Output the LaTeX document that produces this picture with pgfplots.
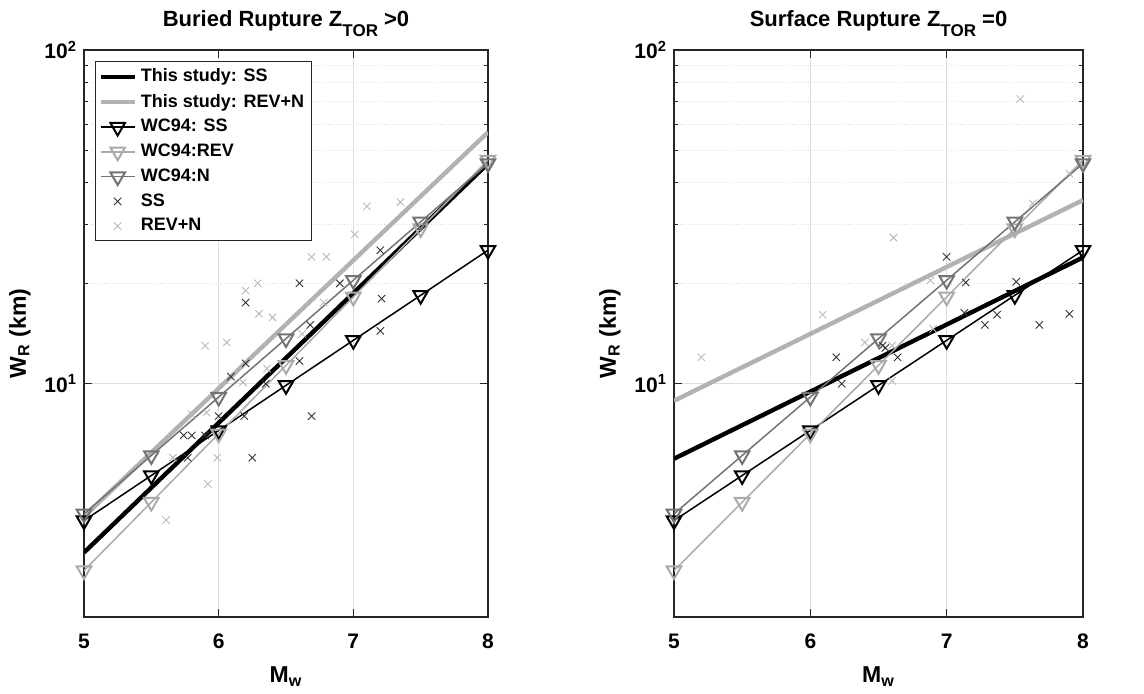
\documentclass[border=0pt]{standalone}
\usepackage{fontspec}
\setmainfont{Liberation Sans}
\usepackage{pgfplots}
\pgfplotsset{compat=1.18}
\definecolor{axgray}{RGB}{38,38,38}
\definecolor{gridc}{RGB}{222,222,222}
\definecolor{colrev}{RGB}{170,170,170}
\definecolor{coln}{RGB}{115,115,115}
\definecolor{colstudyrev}{RGB}{178,178,178}
\definecolor{colssx}{RGB}{50,50,50}
\definecolor{colrevx}{RGB}{185,185,185}
\begin{document}
\begin{tikzpicture}
\useasboundingbox (0pt,0pt) rectangle (572pt,347pt);
% ---------------- left panel
\begin{axis}[scale only axis, width=202pt, height=283.5pt, at={(42pt,38.5pt)}, anchor=south west,
  xmin=5, xmax=8, ymin=2, ymax=100, ymode=log,
  xtick={5,6,7,8}, xticklabels={5,6,7,8}, ytick={10,100},
  yticklabels={10\textsuperscript{1},10\textsuperscript{2}},
  xmajorgrids, ymajorgrids, yminorgrids,
  major grid style={gridc, line width=0.5pt},
  minor grid style={gridc, densely dotted, line width=0.5pt},
  axis line style={axgray, line width=0.6pt},
  tick style={axgray, line width=0.5pt},
  tick align=inside,
  major tick length=4pt, minor tick length=2pt,
  ticklabel style={font=\bfseries\fontsize{10.5}{12}\selectfont},
  xticklabel style={yshift=-5pt},
  xlabel={M\textsubscript{w}},
  ylabel={W\textsubscript{R} (km)},
  xlabel style={yshift=-2pt},
  label style={font=\bfseries\fontsize{11.5}{13}\selectfont},
  title style={font=\bfseries\fontsize{11}{12}\selectfont, yshift=-3pt},
  title={Buried Rupture Z\raisebox{-0.85ex}{\fontsize{8.5}{9}\selectfont TOR} >0},
  legend style={at={(0.027,0.98)}, anchor=north west, draw=axgray, line width=0.5pt,
    font=\bfseries\fontsize{9}{10.5}\selectfont, fill=white, row sep=0.6pt, inner sep=1.5pt},
  legend cell align=left]
\addplot[black, line width=2.2pt, no marks] coordinates {(5,3.12) (8,45.7)};
\addlegendentry{This study: SS}
\addplot[colstudyrev, line width=2.2pt, no marks] coordinates {(5,4.0) (8,56.7)};
\addlegendentry{This study: REV+N}
\addplot[black, line width=0.75pt, mark=triangle, mark size=4.2pt, mark options={rotate=180, line width=1pt, fill=none, solid}] coordinates {(5,3.890) (5.5,5.309) (6,7.244) (6.5,9.886) (7,13.49) (7.5,18.41) (8,25.12)};
\addlegendentry{WC94: SS}
\addplot[colrev, line width=0.75pt, mark=triangle, mark size=4.2pt, mark options={rotate=180, line width=1pt, fill=none, solid}] coordinates {(5,2.754) (5.5,4.416) (6,7.079) (6.5,11.35) (7,18.20) (7.5,29.17) (8,46.77)};
\addlegendentry{WC94:REV}
\addplot[coln, line width=0.75pt, mark=triangle, mark size=4.2pt, mark options={rotate=180, line width=1pt, fill=none, solid}] coordinates {(5,4.074) (5.5,6.095) (6,9.120) (6.5,13.65) (7,20.42) (7.5,30.55) (8,45.71)};
\addlegendentry{WC94:N}
\addplot[only marks, colssx, mark=x, mark size=2.6pt, mark options={line width=0.45pt}] coordinates {(5.74,7.0) (5.80,7.0) (5.90,7.0) (5.77,6.0) (6.0,8.0) (6.19,8.0) (6.25,6.0) (6.09,10.5) (6.20,11.5) (6.20,17.5) (6.60,11.7) (6.68,15.0) (6.69,8.0) (6.60,20.0) (6.90,20.0) (7.20,25.1) (7.21,18.0) (7.20,14.4) (6.35,10.0)};
\addlegendentry{SS}
\addplot[only marks, colrevx, mark=x, mark size=2.6pt, mark options={line width=0.45pt}] coordinates {(5.61,3.9) (5.66,6.0) (5.80,8.1) (5.91,8.2) (5.92,5.0) (5.99,6.0) (5.90,13.0) (6.06,13.3) (6.18,10.1) (6.20,19.0) (6.29,20.0) (6.30,16.2) (6.40,15.8) (6.36,11.1) (6.62,14.1) (6.69,24.0) (6.80,24.0) (7.01,28.0) (7.10,34.0) (7.35,35.0) (6.78,17.5)};
\addlegendentry{REV+N}
\end{axis}
% ---------------- right panel
\begin{axis}[scale only axis, width=204.5pt, height=283.5pt, at={(337pt,38.5pt)}, anchor=south west,
  xmin=5, xmax=8, ymin=2, ymax=100, ymode=log,
  xtick={5,6,7,8}, xticklabels={5,6,7,8}, ytick={10,100},
  yticklabels={10\textsuperscript{1},10\textsuperscript{2}},
  xmajorgrids, ymajorgrids, yminorgrids,
  major grid style={gridc, line width=0.5pt},
  minor grid style={gridc, densely dotted, line width=0.5pt},
  axis line style={axgray, line width=0.6pt},
  tick style={axgray, line width=0.5pt},
  tick align=inside,
  major tick length=4pt, minor tick length=2pt,
  ticklabel style={font=\bfseries\fontsize{10.5}{12}\selectfont},
  xticklabel style={yshift=-5pt},
  xlabel={M\textsubscript{w}},
  ylabel={W\textsubscript{R} (km)},
  xlabel style={yshift=-2pt},
  label style={font=\bfseries\fontsize{11.5}{13}\selectfont},
  title style={font=\bfseries\fontsize{11}{12}\selectfont, yshift=-3pt},
  title={Surface Rupture Z\raisebox{-0.85ex}{\fontsize{8.5}{9}\selectfont TOR} =0}]
\addplot[black, line width=2.2pt, no marks] coordinates {(5,5.96) (8,23.9)};
\addplot[colstudyrev, line width=2.2pt, no marks] coordinates {(5,8.89) (8,35.5)};
\addplot[black, line width=0.75pt, mark=triangle, mark size=4.2pt, mark options={rotate=180, line width=1pt, fill=none, solid}] coordinates {(5,3.890) (5.5,5.309) (6,7.244) (6.5,9.886) (7,13.49) (7.5,18.41) (8,25.12)};
\addplot[colrev, line width=0.75pt, mark=triangle, mark size=4.2pt, mark options={rotate=180, line width=1pt, fill=none, solid}] coordinates {(5,2.754) (5.5,4.416) (6,7.079) (6.5,11.35) (7,18.20) (7.5,29.17) (8,46.77)};
\addplot[coln, line width=0.75pt, mark=triangle, mark size=4.2pt, mark options={rotate=180, line width=1pt, fill=none, solid}] coordinates {(5,4.074) (5.5,6.095) (6,9.120) (6.5,13.65) (7,20.42) (7.5,30.55) (8,45.71)};
\addplot[only marks, colssx, mark=x, mark size=2.6pt, mark options={line width=0.45pt}] coordinates {(6.19,12.0) (6.23,10.0) (6.53,13.0) (6.55,12.8) (6.64,12.0) (7.0,24.0) (7.14,20.1) (7.13,16.3) (7.28,15.0) (7.37,16.1) (7.51,20.2) (7.68,15.0) (7.90,16.2)};
\addplot[only marks, colrevx, mark=x, mark size=2.6pt, mark options={line width=0.45pt}] coordinates {(5.20,12.0) (6.09,16.1) (6.40,13.3) (6.60,13.0) (6.60,10.2) (6.61,27.4) (6.88,20.4) (6.90,14.6) (7.54,71.3) (7.63,34.7) (7.90,42.6)};
\end{axis}
\end{tikzpicture}
\end{document}
